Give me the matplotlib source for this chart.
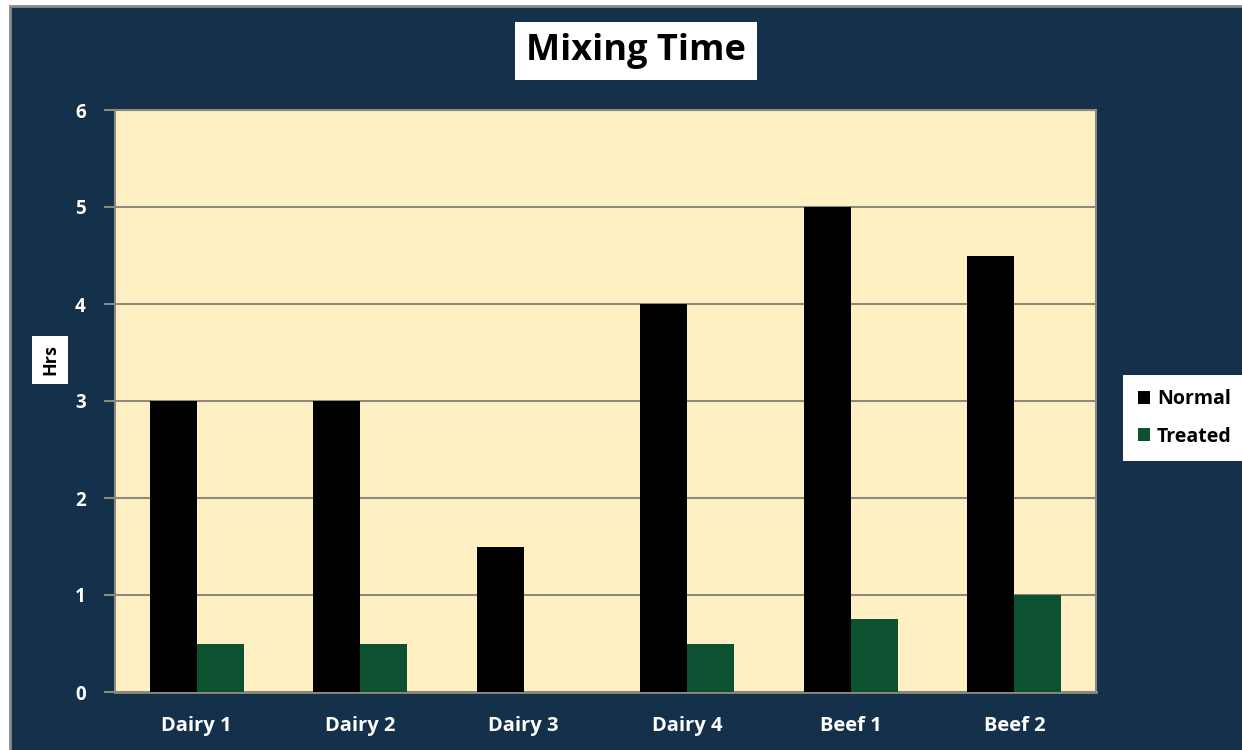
import matplotlib.pyplot as plt
import matplotlib.patches as mpatches
import numpy as np

categories = ['Dairy 1', 'Dairy 2', 'Dairy 3', 'Dairy 4', 'Beef 1', 'Beef 2']
normal = [3, 3, 1.5, 4, 5, 4.5]
treated = [0.5, 0.5, 0, 0.5, 0.75, 1.0]

navy = '#15304B'
cream = '#FFF0C4'
green = '#0D5230'
gridc = '#8C8A7C'

plt.rcParams['font.family'] = ['Open Sans', 'DejaVu Sans']
plt.rcParams['font.weight'] = 'bold'

fig = plt.figure(figsize=(12.42, 7.5), dpi=100)
fig.patch.set_facecolor('white')
# dark chart background with thin grey border
fig.patches.append(mpatches.Rectangle((10 / 1242, -0.01), 1.0, 1 - 6 / 750 + 0.01,
                                      transform=fig.transFigure, facecolor=navy,
                                      edgecolor='#8a8a8a', linewidth=2, zorder=-10))

ax = fig.add_axes([115 / 1242, 1 - 692 / 750, (1096 - 115) / 1242, (692 - 110) / 750])
ax.set_facecolor(cream)
ax.set_zorder(1)

x = np.arange(len(categories))
w = 0.287
ax.bar(x - w / 2, normal, w, color='black', label='Normal', zorder=3)
ax.bar(x + w / 2, treated, w, color=green, label='Treated', zorder=3)

ax.set_xlim(-0.5, len(categories) - 0.5)
ax.set_ylim(0, 6)
ax.set_yticks(range(0, 7))
ax.yaxis.grid(True, color=gridc, linewidth=1.5, zorder=1)
ax.set_xticks(x)
ax.set_xticklabels(categories)
ax.tick_params(axis='x', length=0, pad=17, labelsize=14.5, labelcolor='white')
ax.tick_params(axis='y', length=8, width=1.5, color=gridc, pad=13,
               labelsize=13.5, labelcolor='white')
for s in ax.spines.values():
    s.set_color(gridc)
    s.set_linewidth(1.5)
ax.spines['bottom'].set_linewidth(2)

fig.text(636 / 1242, 1 - 51 / 750, 'Mixing Time', ha='center', va='center',
         fontsize=26, fontweight='bold', color='black',
         bbox=dict(boxstyle='square,pad=0.3', facecolor='white', edgecolor='none'))

fig.text(50 / 1242, 1 - 360 / 750, 'Hrs', ha='center', va='center', rotation=90,
         fontsize=13, fontweight='bold', color='black',
         bbox=dict(boxstyle='square,pad=0.5', facecolor='white', edgecolor='none'))

leg = fig.legend(loc='center left', bbox_to_anchor=(1123 / 1242, 1 - 418 / 750),
                 frameon=True, fancybox=False, fontsize=14, handlelength=0.65,
                 handleheight=0.65, handletextpad=0.35, labelspacing=0.9,
                 borderpad=0.75, borderaxespad=0)
leg.get_frame().set_facecolor('white')
leg.get_frame().set_edgecolor('none')
leg.get_frame().set_alpha(1)

fig.savefig('out.png', dpi=100, facecolor=fig.get_facecolor())
